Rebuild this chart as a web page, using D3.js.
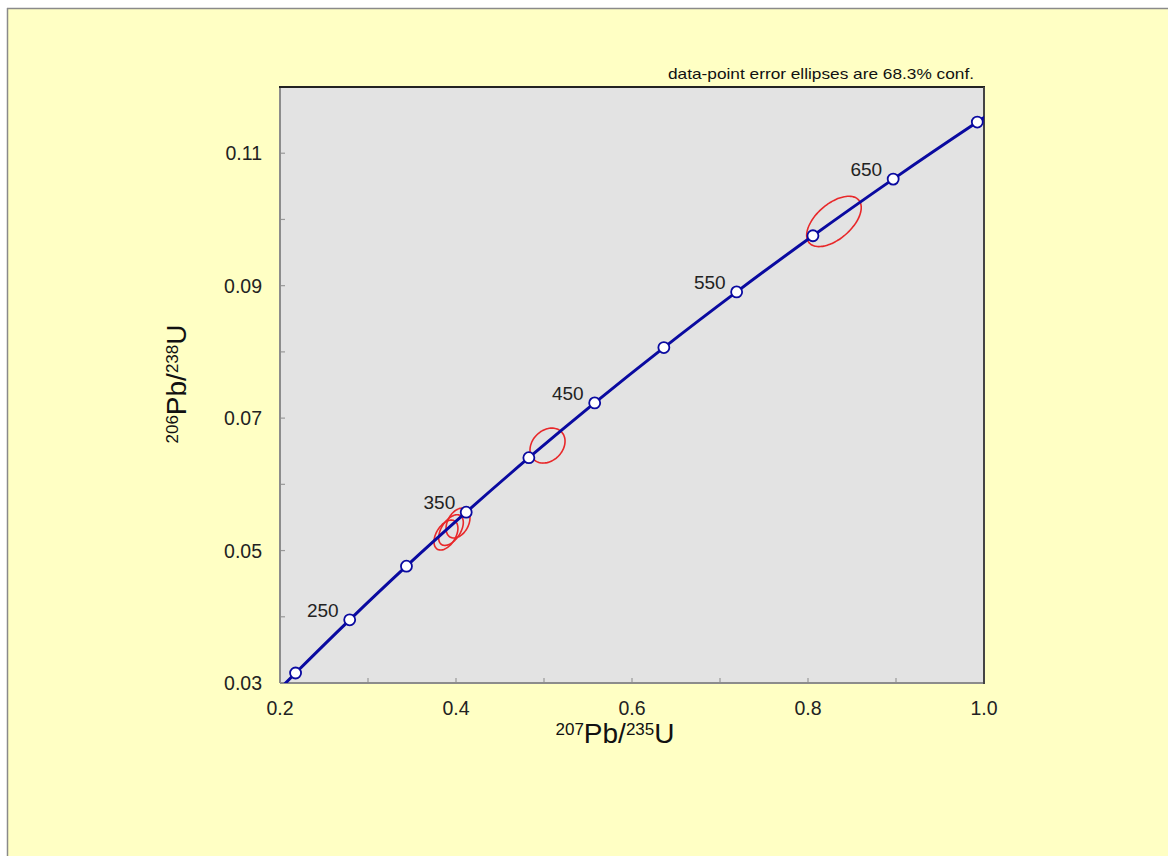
<!DOCTYPE html>
<html><head><meta charset="utf-8">
<script src="https://cdn.jsdelivr.net/npm/d3@7"></script>
<style>
html,body{margin:0;padding:0;background:#fff;}
svg{display:block;font-family:"Liberation Sans",Arial,sans-serif;}
</style></head>
<body>
<script>
// Concordia ticks (age in Ma) and ratios
const ages = [200, 250, 300, 350, 400, 450, 500, 550, 600, 650, 700];
const pb207u235 = [0.2177, 0.2792, 0.3437, 0.4116, 0.4828, 0.5576, 0.6362, 0.7189, 0.8056, 0.8968, 0.9924];
const pb206u238 = [0.03151, 0.03954, 0.04764, 0.05579, 0.06402, 0.07230, 0.08065, 0.08906, 0.09754, 0.10609, 0.11470];
// Concordia curve trace (extends beyond the frame, clipped)
const curveX = [0.1940, 0.2177, 0.2792, 0.3437, 0.4116, 0.4828, 0.5576, 0.6362, 0.7189, 0.8056, 0.8968, 0.9924, 1.0323];
const curveY = [0.02832, 0.03151, 0.03954, 0.04764, 0.05579, 0.06402, 0.07230, 0.08065, 0.08906, 0.09754, 0.10609, 0.11470, 0.11817];
const labelAges = [250, 350, 450, 550, 650];
// Error ellipses: centre, half-extent in x and y, correlation
const ellX = [0.3886, 0.3943, 0.4023, 0.504, 0.8295];
const ellY = [0.05234, 0.05309, 0.05415, 0.06585, 0.0997];
const ellSX = [0.0136, 0.0140, 0.0136, 0.0199, 0.0310];
const ellSY = [0.00226, 0.00232, 0.00226, 0.00264, 0.0038];
const ellRho = [0.45, 0.5, 0.35, 0.25, 0.55];
const xTicks = [0.2, 0.4, 0.6, 0.8, 1.0];
const xMinor = [0.3, 0.5, 0.7, 0.9];
const yTicks = [0.03, 0.05, 0.07, 0.09, 0.11];
const yMinor = [0.04, 0.06, 0.08, 0.10];

const W = 1168, H = 856;
const L = 280, R = 984, T = 87, B = 683;
const svg = d3.select("body").append("svg").attr("width", W).attr("height", H);

// page
svg.append("rect").attr("x", 8).attr("y", 8).attr("width", W).attr("height", H).attr("fill", "#FFFFC4");
svg.append("line").attr("x1", 7.5).attr("y1", 8).attr("x2", 7.5).attr("y2", H).attr("stroke", "#8a8a8a").attr("stroke-width", 1.5);
svg.append("line").attr("x1", 7).attr("y1", 8.5).attr("x2", W).attr("y2", 8.5).attr("stroke", "#8a8a8a").attr("stroke-width", 1.5);

const x = d3.scaleLinear().domain([0.2, 1.0]).range([L, R]);
const y = d3.scaleLinear().domain([0.03, 0.12]).range([B, T]);

svg.append("rect").attr("x", L).attr("y", T).attr("width", R - L).attr("height", B - T).attr("fill", "#E3E3E3");

svg.append("defs").append("clipPath").attr("id", "clip")
  .append("rect").attr("x", L).attr("y", T).attr("width", R - L).attr("height", B - T);

// ticks (inward)
const tk = svg.append("g").attr("stroke", "#999").attr("stroke-width", 1.2);
xTicks.concat(xMinor).forEach(v => {
  tk.append("line").attr("x1", x(v)).attr("x2", x(v)).attr("y1", B).attr("y2", B - 5);
});
yTicks.concat(yMinor).forEach(v => {
  tk.append("line").attr("x1", L).attr("x2", L + 5).attr("y1", y(v)).attr("y2", y(v));
});

// frame
svg.append("line").attr("x1", L).attr("x2", L).attr("y1", T).attr("y2", B).attr("stroke", "#8c8c8c").attr("stroke-width", 2);
svg.append("line").attr("x1", L).attr("x2", R).attr("y1", B).attr("y2", B).attr("stroke", "#8c8c8c").attr("stroke-width", 2);
svg.append("line").attr("x1", L - 1).attr("x2", R + 1).attr("y1", T).attr("y2", T).attr("stroke", "#222").attr("stroke-width", 2);
svg.append("line").attr("x1", R).attr("x2", R).attr("y1", T).attr("y2", B + 1).attr("stroke", "#444").attr("stroke-width", 2);

// tick labels
svg.append("g").selectAll("text").data(xTicks).join("text")
  .attr("x", d => x(d)).attr("y", B + 32).attr("text-anchor", "middle")
  .attr("font-size", 19.5).attr("fill", "#222").text(d => d3.format(".1f")(d));
svg.append("g").selectAll("text").data(yTicks).join("text")
  .attr("x", L - 18).attr("y", d => y(d) + 7).attr("text-anchor", "end")
  .attr("font-size", 19.5).attr("fill", "#222").text(d => d3.format(".2f")(d));

// axis titles
const xt = svg.append("text").attr("x", 615).attr("y", 743).attr("text-anchor", "middle").attr("fill", "#111");
xt.append("tspan").attr("font-size", 17).attr("dy", -8).text("207");
xt.append("tspan").attr("font-size", 28).attr("dy", 8).text("Pb/");
xt.append("tspan").attr("font-size", 17).attr("dy", -8).text("235");
xt.append("tspan").attr("font-size", 28).attr("dy", 8).text("U");

const yt = svg.append("text").attr("transform", "translate(186,384) rotate(-90)").attr("text-anchor", "middle").attr("fill", "#111");
yt.append("tspan").attr("font-size", 17).attr("dy", -8).text("206");
yt.append("tspan").attr("font-size", 28).attr("dy", 8).text("Pb/");
yt.append("tspan").attr("font-size", 17).attr("dy", -8).text("238");
yt.append("tspan").attr("font-size", 28).attr("dy", 8).text("U");

svg.append("text").attr("x", 668).attr("y", 79)
  .attr("font-size", 14.5).attr("fill", "#111")
  .attr("textLength", 306).attr("lengthAdjust", "spacingAndGlyphs")
  .text("data-point error ellipses are 68.3% conf.");

const plot = svg.append("g").attr("clip-path", "url(#clip)");

// ellipses
const ts = d3.range(0, 360, 4).map(d => d * Math.PI / 180);
ellX.forEach((cx, i) => {
  const sx = ellSX[i], sy = ellSY[i], r = ellRho[i];
  const pts = ts.map(t => [x(cx + sx * Math.cos(t)), y(ellY[i] + sy * (r * Math.cos(t) + Math.sqrt(1 - r * r) * Math.sin(t)))]);
  plot.append("path").attr("d", d3.line().curve(d3.curveCardinalClosed)(pts))
    .attr("fill", "none").attr("stroke", "#E8282A").attr("stroke-width", 1.6);
});

// concordia
plot.append("path")
  .attr("d", d3.line().curve(d3.curveCatmullRom)(curveX.map((v, i) => [x(v), y(curveY[i])])))
  .attr("fill", "none").attr("stroke", "#0A0AA0").attr("stroke-width", 3);

plot.selectAll("circle").data(ages).join("circle")
  .attr("cx", (d, i) => x(pb207u235[i])).attr("cy", (d, i) => y(pb206u238[i]))
  .attr("r", 5.5).attr("fill", "#fff").attr("stroke", "#0A0AA0").attr("stroke-width", 1.8);

// age labels
svg.append("g").selectAll("text").data(labelAges).join("text")
  .attr("x", d => x(pb207u235[ages.indexOf(d)]) - 11)
  .attr("y", d => y(pb206u238[ages.indexOf(d)]) - 3)
  .attr("text-anchor", "end").attr("font-size", 19).attr("fill", "#222").text(d => d);
</script>
</body></html>
